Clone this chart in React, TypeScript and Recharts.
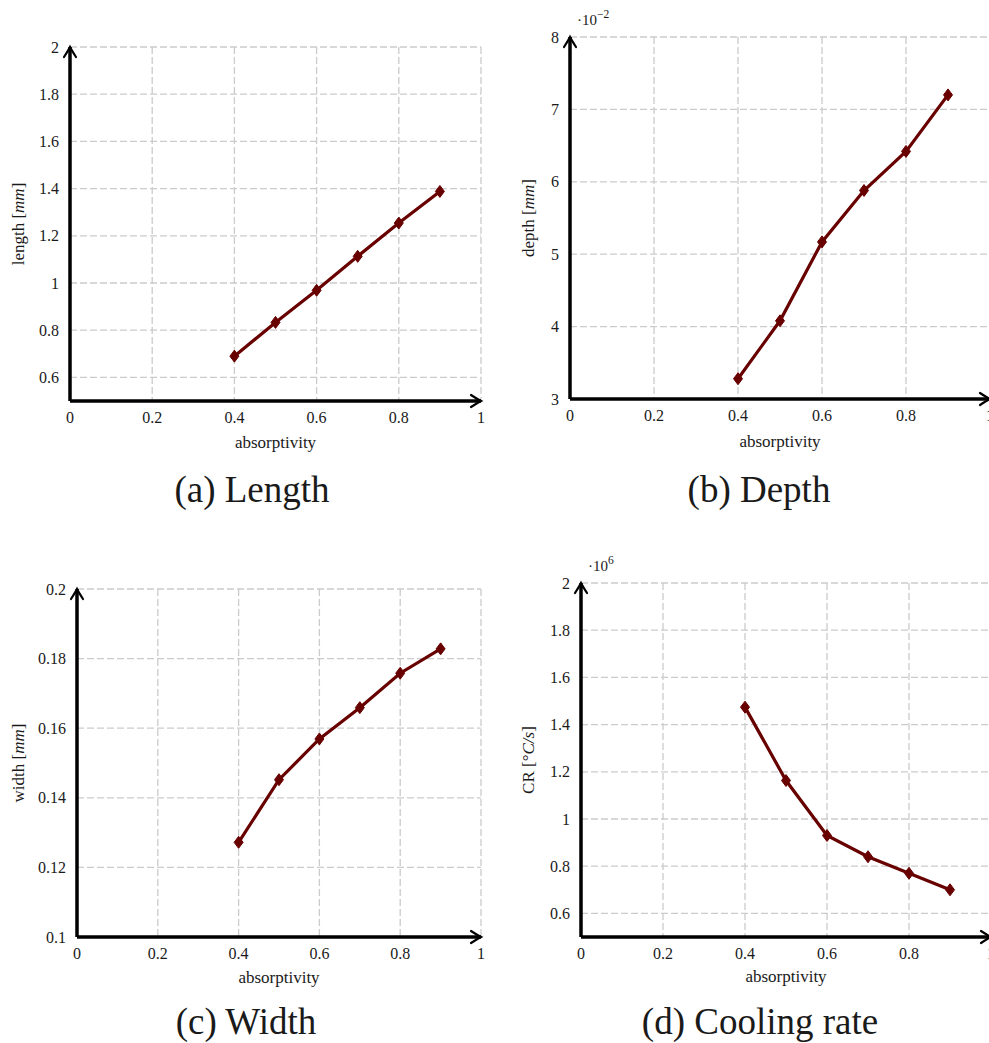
import React from 'react';
import { LineChart, Line, XAxis, YAxis, CartesianGrid } from 'recharts';

// absorptivity sweep shared by all four panels
const absorptivity = [0.4, 0.5, 0.6, 0.7, 0.8, 0.9];

// melt pool results
const meltLength = [0.69, 0.833, 0.969, 1.113, 1.254, 1.388]; // mm
const meltDepth = [3.28, 4.08, 5.17, 5.88, 6.42, 7.2]; // x 10^-2 mm
const meltWidth = [0.1272, 0.1452, 0.1569, 0.1659, 0.1758, 0.1828]; // mm
const coolingRate = [1.474, 1.163, 0.93, 0.84, 0.77, 0.7]; // x 10^6 °C/s

// tick labels
const xTicks = [0, 0.2, 0.4, 0.6, 0.8, 1];
const lengthTicks = [0.6, 0.8, 1, 1.2, 1.4, 1.6, 1.8, 2];
const depthTicks = [3, 4, 5, 6, 7, 8];
const widthTicks = [0.1, 0.12, 0.14, 0.16, 0.18, 0.2];
const coolingTicks = [0.6, 0.8, 1, 1.2, 1.4, 1.6, 1.8, 2];

const SERIF = '"Liberation Serif", "DejaVu Serif", serif';
const LINE_COLOR = '#680000';
const GRID_COLOR = '#cbcbcb';
const TEXT_COLOR = '#1a1a1a';

const Diamond = (props: any) => {
  const { cx, cy, index } = props;
  if (cx == null || cy == null) return <g key={index} />;
  return (
    <path
      key={index}
      d={`M${cx},${cy - 6}L${cx + 4.5},${cy}L${cx},${cy + 6}L${cx - 4.5},${cy}Z`}
      fill={LINE_COLOR}
      stroke={LINE_COLOR}
      strokeWidth={1}
    />
  );
};

interface PanelProps {
  left: number;
  top: number;
  width: number;
  height: number;
  marginTop: number;
  marginRight: number;
  yAxisWidth: number;
  xAxisHeight: number;
  values: number[];
  yDomain: [number, number];
  yTicks: number[];
  yLabel: React.ReactNode;
  yLabelX: number;
  xLabelOffset: number;
  exponent?: React.ReactNode;
}

const Panel: React.FC<PanelProps> = ({
  left,
  top,
  width,
  height,
  marginTop,
  marginRight,
  yAxisWidth,
  xAxisHeight,
  values,
  yDomain,
  yTicks,
  yLabel,
  yLabelX,
  xLabelOffset,
  exponent,
}) => {
  const data = absorptivity.map((a, i) => ({ a, v: values[i] }));

  const renderXLabel = (props: any) => {
    const vb = props.viewBox || {};
    const x = vb.x + vb.width;
    const y = vb.y;
    return (
      <g>
        <path
          d={`M${x - 10},${y - 6}Q${x - 3},${y - 1.5} ${x},${y}Q${x - 3},${y + 1.5} ${x - 10},${y + 6}`}
          fill="none"
          stroke="#000"
          strokeWidth={2.2}
          strokeLinecap="round"
        />
        <text
          x={vb.x + vb.width / 2}
          y={y + xLabelOffset}
          textAnchor="middle"
          dominantBaseline="central"
          style={{ fontFamily: SERIF }}
          fontSize={17}
          fill={TEXT_COLOR}
        >
          absorptivity
        </text>
      </g>
    );
  };

  const renderYLabel = (props: any) => {
    const vb = props.viewBox || {};
    const x = vb.x + vb.width;
    const y = vb.y;
    const cy = vb.y + vb.height / 2;
    return (
      <g>
        <path
          d={`M${x - 6},${y + 10}Q${x - 1.5},${y + 3} ${x},${y}Q${x + 1.5},${y + 3} ${x + 6},${y + 10}`}
          fill="none"
          stroke="#000"
          strokeWidth={2.2}
          strokeLinecap="round"
        />
        <text
          x={yLabelX}
          y={cy}
          transform={`rotate(-90 ${yLabelX} ${cy})`}
          textAnchor="middle"
          dominantBaseline="central"
          style={{ fontFamily: SERIF }}
          fontSize={17}
          fill={TEXT_COLOR}
        >
          {yLabel}
        </text>
        {exponent && (
          <text x={x + 7} y={y - 12} style={{ fontFamily: SERIF }} fontSize={15} fill={TEXT_COLOR}>
            {exponent}
          </text>
        )}
      </g>
    );
  };

  const tickStyle = { fill: TEXT_COLOR, fontSize: 16, style: { fontFamily: SERIF } };

  return (
    <div style={{ position: 'absolute', left, top, fontFamily: SERIF }}>
      <LineChart
        width={width}
        height={height}
        data={data}
        margin={{ top: marginTop, right: marginRight, bottom: 0, left: 0 }}
      >
        <CartesianGrid stroke={GRID_COLOR} strokeWidth={1.3} strokeDasharray="7 3" />
        <XAxis
          type="number"
          dataKey="a"
          domain={[0, 1]}
          ticks={xTicks}
          interval={0}
          allowDataOverflow
          height={xAxisHeight}
          tickSize={0}
          tickMargin={11}
          tickLine={false}
          axisLine={{ stroke: '#000', strokeWidth: 3.5 }}
          tick={tickStyle}
          label={{ content: renderXLabel }}
        />
        <YAxis
          type="number"
          domain={yDomain}
          ticks={yTicks}
          interval={0}
          allowDataOverflow
          width={yAxisWidth}
          tickSize={0}
          tickMargin={11}
          tickLine={false}
          axisLine={{ stroke: '#000', strokeWidth: 3.5 }}
          tick={tickStyle}
          label={{ content: renderYLabel }}
        />
        <Line
          type="linear"
          dataKey="v"
          stroke={LINE_COLOR}
          strokeWidth={3.2}
          dot={Diamond}
          activeDot={false}
          isAnimationActive={false}
        />
      </LineChart>
    </div>
  );
};

const Caption = ({ cx, cy, text }: { cx: number; cy: number; text: string }) => (
  <div
    style={{
      position: 'absolute',
      left: cx - 200,
      top: cy - 19,
      width: 400,
      height: 38,
      lineHeight: '38px',
      textAlign: 'center',
      fontFamily: SERIF,
      fontSize: 37,
      color: TEXT_COLOR,
      whiteSpace: 'nowrap',
    }}
  >
    {text}
  </div>
);

export default function App() {
  return (
    <div
      style={{
        position: 'absolute',
        left: 0,
        top: 0,
        width: 989,
        height: 1043,
        overflow: 'hidden',
        background: '#fff',
      }}
    >
      <Panel
        left={0}
        top={0}
        width={500}
        height={470}
        marginTop={47}
        marginRight={19}
        yAxisWidth={70}
        xAxisHeight={69}
        values={meltLength}
        yDomain={[0.5, 2]}
        yTicks={lengthTicks}
        yLabelX={18}
        xLabelOffset={41}
        yLabel={
          <>
            length [<tspan fontStyle="italic">mm</tspan>]
          </>
        }
      />
      <Panel
        left={500}
        top={0}
        width={491}
        height={470}
        marginTop={37}
        marginRight={1}
        yAxisWidth={70}
        xAxisHeight={71}
        values={meltDepth}
        yDomain={[3, 8]}
        yTicks={depthTicks}
        yLabelX={28}
        xLabelOffset={42}
        yLabel={
          <>
            depth [<tspan fontStyle="italic">mm</tspan>]
          </>
        }
        exponent={
          <>
            ·10
            <tspan dy={-7} fontSize={11.5}>
              −2
            </tspan>
          </>
        }
      />
      <Panel
        left={0}
        top={540}
        width={500}
        height={460}
        marginTop={49}
        marginRight={19}
        yAxisWidth={77}
        xAxisHeight={63}
        values={meltWidth}
        yDomain={[0.1, 0.2]}
        yTicks={widthTicks}
        yLabelX={18}
        xLabelOffset={40}
        yLabel={
          <>
            width [<tspan fontStyle="italic">mm</tspan>]
          </>
        }
      />
      <Panel
        left={500}
        top={540}
        width={491}
        height={460}
        marginTop={43}
        marginRight={0}
        yAxisWidth={81}
        xAxisHeight={63}
        values={coolingRate}
        yDomain={[0.5, 2]}
        yTicks={coolingTicks}
        yLabelX={28}
        xLabelOffset={39}
        yLabel={
          <>
            CR [°<tspan fontStyle="italic">C/s</tspan>]
          </>
        }
        exponent={
          <>
            ·10
            <tspan dy={-7} fontSize={11.5}>
              6
            </tspan>
          </>
        }
      />
      <Caption cx={252} cy={490} text="(a) Length" />
      <Caption cx={759} cy={490} text="(b) Depth" />
      <Caption cx={246} cy={1022} text="(c) Width" />
      <Caption cx={760} cy={1022} text="(d) Cooling rate" />
    </div>
  );
}
